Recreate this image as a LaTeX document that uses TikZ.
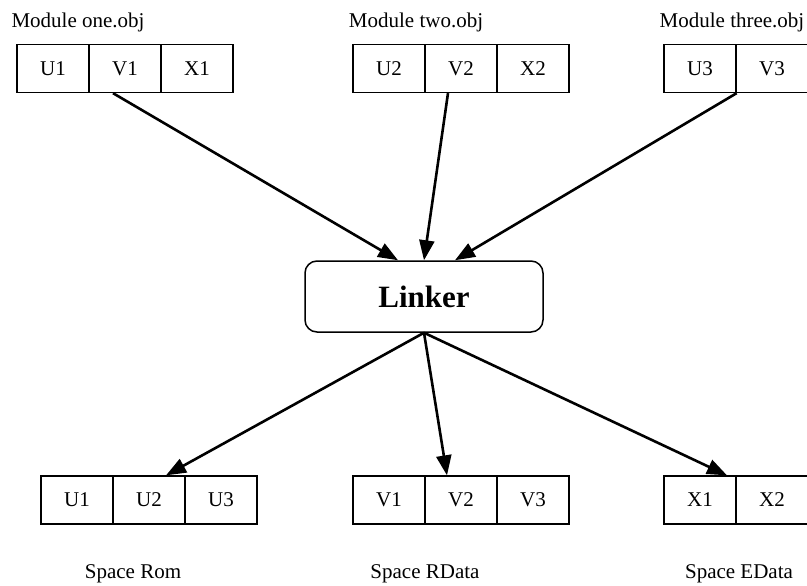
\documentclass[tikz,border=0pt]{standalone}
\usepackage{fontspec}
\setmainfont{Liberation Serif}
\usepackage{tikz}
\usetikzlibrary{arrows.meta}

\tikzset{
	cell/.style={draw,line width=1.3pt,minimum width=72pt,minimum height=48pt,inner sep=0pt,font=\fontsize{21}{25}\selectfont},
	caption/.style={anchor=base,font=\fontsize{21}{25}\selectfont},
	link/.style={-{Triangle[length=20pt,width=15pt]},line width=2.6pt}
}

\begin{document}
\begin{tikzpicture}[x=1pt,y=-1pt]
			\useasboundingbox (0,0) rectangle (807,586);
			% Object modules
			\node[caption] (mone) at (78,28) {Module one.obj};
			\node[caption] (mtwo) at (416,28) {Module two.obj};
			\node[caption] (mthree) at (732,28) {Module three.obj};
			\foreach \name/\txt/\x in {u1/U1/53,v1/V1/125,x1/X1/197,u2/U2/389,v2/V2/461,x2/X2/533,u3/U3/700,v3/V3/772} {
				\node[cell] (\name) at (\x,68.5) {\txt};
			}
			
			% Linker
			\node[draw,line width=1.5pt,rounded corners=12pt,minimum width=238pt,minimum height=71pt,font=\fontsize{31}{36}\selectfont\bfseries] (linker) at (424,296.5) {Linker};
			
			% Memory spaces
			\foreach \name/\txt/\x in {rom1/U1/77,rom2/U2/149,rom3/U3/221,rd1/V1/389,rd2/V2/461,rd3/V3/533,ed1/X1/700,ed2/X2/772} {
				\node[cell] (\name) at (\x,500) {\txt};
			}
			\node[caption] (srom) at (133,578) {Space Rom};
			\node[caption] (srdata) at (425,578) {Space RData};
			\node[caption] (sedata) at (739,578) {Space EData};
			
			% Arrows into the linker
			\draw[link] ([xshift=-12pt]v1.south) -- ([xshift=-26pt]linker.north);
			\draw[link] ([xshift=-13pt]v2.south) -- (linker.north);
			\draw[link] (u3.south east) -- ([xshift=31pt]linker.north);
			
			% Arrows out of the linker
			\draw[link] (linker.south) -- ([xshift=17pt]rom2.north);
			\draw[link] (linker.south) -- ([xshift=-14pt]rd2.north);
			\draw[link] (linker.south) -- ([xshift=27pt]ed1.north);
		\end{tikzpicture}
\end{document}
